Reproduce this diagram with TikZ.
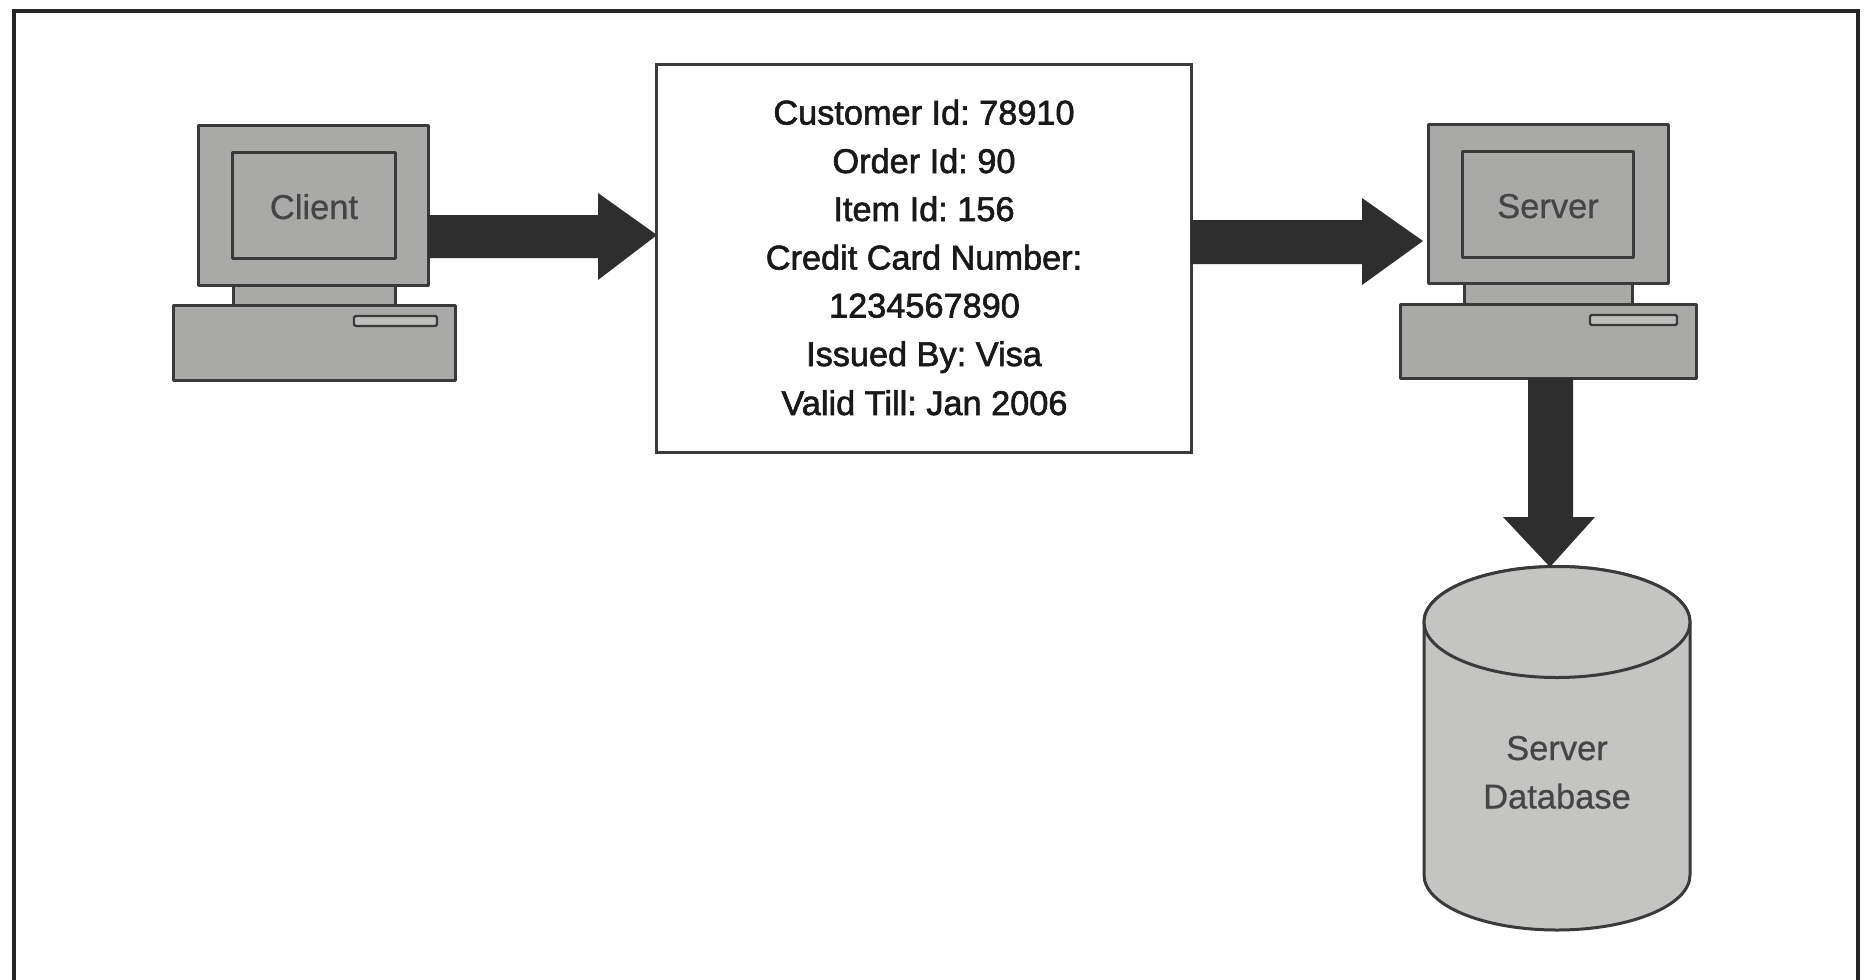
\documentclass[tikz,border=0pt]{standalone}
\usepackage{fontspec}
\setmainfont{Liberation Sans}
\newfontface\msgface{Liberation Sans}[FakeBold=1.8]
\newfontface\labelface{Liberation Sans}[FakeBold=0.6]
\frenchspacing
\definecolor{pcgray}{HTML}{A9A9A7}
\definecolor{slotgray}{HTML}{BEBEBC}
\definecolor{dbgray}{HTML}{C4C4C2}
\definecolor{inkline}{HTML}{3A3A3A}
\definecolor{arrowink}{HTML}{2E2E2E}
\definecolor{labelink}{HTML}{454545}
\tikzset{
  x=1pt,y=-1pt,
  pcpart/.style={draw=inkline,fill=pcgray,line width=3pt,line join=round},
  slotpart/.style={draw=inkline,fill=slotgray,line width=2.4pt,rounded corners=1.5pt},
  dbpart/.style={draw=inkline,fill=dbgray,line width=3pt},
  pclabel/.style={text=labelink,font=\labelface\fontsize{34.5}{40}\selectfont,inner sep=0pt,anchor=base},
  fatarrow/.style={fill=arrowink,draw=none},
  msgline/.style={text=black!90,font=\msgface\fontsize{34.3}{40}\selectfont,inner sep=0pt,anchor=base}
}
\begin{document}
\begin{tikzpicture}
\useasboundingbox (0,0) rectangle (1864,980);
\fill[white] (0,0) rectangle (1864,980);
% outer frame
\draw[black!85,line width=4pt] (14,980) -- (14,11) -- (1858,11) -- (1858,980);
% client
\draw[pcpart] (233,285) rectangle (395,305);
\draw[pcpart] (198,125) rectangle (428,285);
\node[pcpart,minimum width=163pt,minimum height=106pt,inner sep=0pt] (clientscreen) at (314,205) {};
\node[pclabel] (client) at (314,219) {Client};
\draw[pcpart] (173.5,305) rectangle (455,380);
\draw[slotpart] (354,316) rectangle (437,326);
% server
\draw[pcpart] (1464,283) rectangle (1632,304);
\draw[pcpart] (1428,124) rectangle (1668,283);
\node[pcpart,minimum width=171pt,minimum height=106pt,inner sep=0pt] (serverscreen) at (1547.5,204) {};
\node[pclabel] (server) at (1548,218) {Server};
\draw[pcpart] (1400.5,304) rectangle (1696,378);
\draw[slotpart] (1590,315) rectangle (1677,325);
% message box
\node[draw=inkline,fill=white,line width=3pt,minimum width=535pt,minimum height=388pt,inner sep=0pt] (msg) at (923.5,258) {};
\node[msgline] (m1) at (924,124.5) {Customer Id: 78910};
\node[msgline] (m2) at (924,173) {Order Id: 90};
\node[msgline] (m3) at (924,221) {Item Id: 156};
\node[msgline] (m4) at (924,269.5) {Credit Card Number:};
\node[msgline] (m5) at (924.5,317.5) {1234567890};
\node[msgline] (m6) at (924,366) {Issued By: Visa};
\node[msgline] (m7) at (924.5,415) {Valid Till: Jan 2006};
% database
\path[dbpart]
  (1424,622) -- (1424,875) arc[start angle=180,end angle=360,x radius=133,y radius=-55] -- (1690,622) arc[start angle=0,end angle=180,x radius=133,y radius=-55.5] -- cycle;
\draw[dbpart] (1557,622) ellipse[x radius=133,y radius=55.5];
\node[pclabel] (dbl1) at (1557,760) {Server};
\node[pclabel] (dbl2) at (1557,808.5) {Database};
\coordinate (dbtop) at (1550,567);
% arrows
\fill[fatarrow] (428,215) -- (598,215) -- (598,193) -- (657,235) -- (598,280) -- (598,258) -- (428,258) -- cycle;
\fill[fatarrow] (1191,220) -- (1362,220) -- (1362,198) -- (1423,241) -- (1362,285) -- (1362,264) -- (1191,264) -- cycle;
\fill[fatarrow] (1528,378) -- (1573,378) -- (1573,517) -- (1595,517) -- (dbtop) -- (1503,517) -- (1528,517) -- cycle;
\end{tikzpicture}
\end{document}
